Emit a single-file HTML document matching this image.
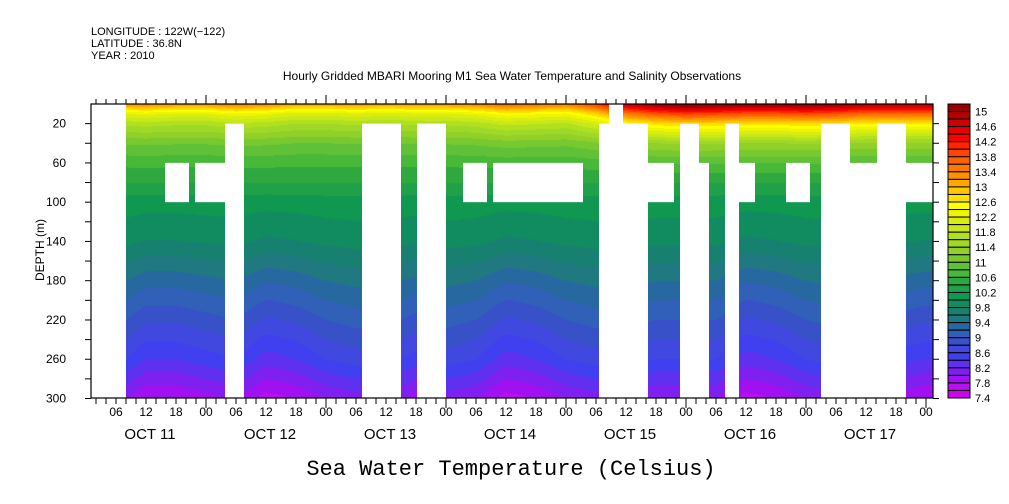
<!DOCTYPE html>
<html><head><meta charset="utf-8">
<style>
html,body{margin:0;padding:0;background:#fff;}
body{width:1009px;height:504px;position:relative;overflow:hidden;font-family:"Liberation Sans",sans-serif;}
svg text{font-family:"Liberation Sans",sans-serif;fill:#000;}
</style></head>
<body>
<svg id="chart" width="1009" height="504" xmlns="http://www.w3.org/2000/svg" style="position:absolute;left:0;top:0">
  <g font-size="11">
    <text x="91" y="35">LONGITUDE : 122W(−122)</text>
    <text x="91" y="47">LATITUDE : 36.8N</text>
    <text x="91" y="59">YEAR : 2010</text>
  </g>
  <text x="512" y="80" font-size="12" text-anchor="middle">Hourly Gridded MBARI Mooring M1 Sea Water Temperature and Salinity Observations</text>
  <foreignObject x="91" y="104" width="842" height="294"><canvas xmlns="http://www.w3.org/1999/xhtml" id="heat" width="842" height="294" style="display:block"></canvas></foreignObject>
  <g id="gaps"></g>
  <g id="axes"></g>
  <g id="cbar"></g>
  <text transform="translate(44,250) rotate(-90)" font-size="12" text-anchor="middle">DEPTH (m)</text>
  <text x="511" y="475" font-size="22" text-anchor="middle" style="font-family:'Liberation Mono',monospace">Sea Water Temperature (Celsius)</text>
</svg>
<script>
// ---- data ----
const depths = [0, 5, 10, 20, 40, 60, 80, 100, 140, 180, 220, 260, 300];
const baseProfile = [13.2, 12.6, 12.1, 11.6, 11.0, 10.65, 10.4, 10.1, 9.85, 9.4, 9.0, 8.6, 8.0];
const surfWeight = [1, 0.95, 0.85, 0.55, 0.2, 0.08, 0, 0, 0, 0, 0, 0, 0];
const deepWeight = [0, 0, 0, 0, 0, 0, 0, 0.1, 0.3, 0.6, 0.8, 1, 1];
const anomHours = [0,6,12,18,24,30,36,42,48,54,60,66,72,78,84,90,96,102,108,114,120,126,132,138,144,150,156,162,168];
const surfAnom = [0.1,0.1,0.2,0.1, 0.1,0.3,0.2,0.0, 0.0,0.1,0.0,0.1, 0.1,0.2,0.5,0.4, 0.3,0.8,1.6,2.0, 2.2,2.1,2.0,2.0, 2.1,2.0,1.8,1.8, 1.8];
const deepAnom = [0,0.1,-0.2,-0.2, -0.1,0.0,-0.3,-0.2, 0.0,0.1,0.1,-0.1, 0.1,0.0,-0.3,-0.2, 0.0,0.1,0.1,0.0, 0.0,0.0,-0.3,-0.2, 0.0,0.1,0.0,-0.1, -0.2];
// gaps: [startHour, endHour, depthTop, depthBottom]
const gapStart = [1, 15.8, 21.8, 27.8, 55.2, 66.2, 75.4, 81.4, 102.6, 104.6, 112.4, 118.8, 122.6, 127.8, 130.6, 140, 147, 152.8, 158.2, 164];
const gapEnd   = [8, 20.6, 27.8, 31.6, 63, 72, 80.2, 99.4, 112.4, 107.4, 117.6, 122.6, 124.6, 130.6, 133.8, 144.8, 152.8, 158.2, 164, 169.4];
const gapTop   = [0, 60, 60, 20, 20, 20, 60, 60, 20, 0, 60, 20, 60, 20, 60, 60, 20, 60, 20, 60];
const gapBot   = [300, 100, 100, 300, 300, 300, 100, 100, 300, 20, 100, 300, 300, 300, 100, 100, 300, 300, 300, 100];
const cbarLabels = ["15","14.6","14.2","13.8","13.4","13","12.6","12.2","11.8","11.4","11","10.6","10.2","9.8","9.4","9","8.6","8.2","7.8","7.4"];
const depthTicks = [20,60,100,140,180,220,260,300];
const hourLabels = ["06","12","18","00"];
const dayLabels = ["OCT 11","OCT 12","OCT 13","OCT 14","OCT 15","OCT 16","OCT 17"];
const palette = ["#990000","#b00000","#cc0000","#e60000","#ff0000","#ff2400","#ff4400","#ff6000","#ff7800","#ff9000","#ffa800","#ffc800","#ffe000","#ffff00","#eef500","#d8ee10","#c8e818","#b0e020","#a0d828","#90d028","#78c830","#60c038","#48b838","#30a840","#20a048","#109850","#108c60","#188070","#207880","#2868a0","#3060b8","#3850c8","#4048e0","#4040f0","#6030f0","#8020f0","#a010f0","#b810f0","#d000f0"];

// ---- scales ----
const X0 = 86, PXH = 5, Y0 = 104, PXM = 0.9817, L = 91, R = 933, T = 104, B = 398;
const xs = h => X0 + PXH * h;
const ys = d => Y0 + PXM * d;
const NS = "http://www.w3.org/2000/svg";
function mk(tag, attrs, parent){const e=document.createElementNS(NS,tag);for(const k in attrs)e.setAttribute(k,attrs[k]);parent.appendChild(e);return e;}
function lerpArr(xsA, ysA, v){
  if(v<=xsA[0])return ysA[0];
  for(let i=1;i<xsA.length;i++){if(v<=xsA[i]){const f=(v-xsA[i-1])/(xsA[i]-xsA[i-1]);return ysA[i-1]+f*(ysA[i]-ysA[i-1]);}}
  return ysA[ysA.length-1];
}
function temp(h,d){
  return lerpArr(depths,baseProfile,d) + lerpArr(anomHours,surfAnom,h)*lerpArr(depths,surfWeight,d) + lerpArr(anomHours,deepAnom,h)*lerpArr(depths,deepWeight,d);
}
// ---- heatmap ----
const ctx = document.getElementById('heat').getContext('2d');
for(let px=0;px<R-L;px++){
  const h=(L+px+0.5-X0)/PXH;
  for(let py=0;py<B-T;py++){
    const d=(T+py+0.5-Y0)/PXM;
    let i=Math.floor((15.2-temp(h,d))/0.2); i=Math.max(0,Math.min(38,i));
    ctx.fillStyle=palette[i]; ctx.fillRect(px,py,1,1);
  }
}
// ---- gaps ----
const gg=document.getElementById('gaps');
for(let i=0;i<gapStart.length;i++){
  const r=mk('rect',{x:Math.max(L,xs(gapStart[i])),y:ys(gapTop[i]),width:Math.min(R,xs(gapEnd[i]))-Math.max(L,xs(gapStart[i])),height:ys(gapBot[i])-ys(gapTop[i]),fill:'#fff'},gg);
  
  
}
// ---- axes ----
const ax=document.getElementById('axes');
mk('rect',{x:L,y:T,width:R-L,height:B-T,fill:'none',stroke:'#000','stroke-width':1.2},ax);
for(let d=20;d<=300;d+=20){
  const y=ys(d);
  mk('line',{x1:L-6,y1:y,x2:L,y2:y,stroke:'#000'},ax);
  mk('line',{x1:R,y1:y,x2:R+6,y2:y,stroke:'#000'},ax);
}
depthTicks.forEach(d=>{
  const t=mk('text',{x:L-25,y:ys(d)+4,'font-size':12,'text-anchor':'end'},ax);
  t.textContent=d;
  
  
});
for(let h=2;h<=168;h+=2){
  const x=xs(h); if(x<L||x>R)continue;
  const major=h%24===0;
  mk('line',{x1:x,y1:B,x2:x,y2:B+(major?10:6),stroke:'#000'},ax);
  mk('line',{x1:x,y1:T,x2:x,y2:T-(major?9:5),stroke:'#000'},ax);
}
for(let h=6;h<=168;h+=6){
  const t=mk('text',{x:xs(h),y:416,'font-size':12,'text-anchor':'middle'},ax);
  t.textContent=hourLabels[(h/6-1)%4];
  
  
}
dayLabels.forEach((lab,i)=>{
  const t=mk('text',{x:xs(24*i+12)+4,y:439,'font-size':15,'text-anchor':'middle'},ax);
  t.textContent=lab;
  
  
});
// ---- colorbar ----
const cb=document.getElementById('cbar');
const CX=948, CW=22, CT=104, CH=294, bh=CH/39;
palette.forEach((c,i)=>{
  const r=mk('rect',{x:CX,y:CT+i*bh,width:CW,height:bh,fill:c,stroke:'#000','stroke-width':1},cb);
  
  
});
cbarLabels.forEach((lab,i)=>{
  const t=mk('text',{x:CX+CW+5,y:CT+(1+2*i)*bh+4,'font-size':11},cb);
  t.textContent=lab;
  
  
});
</script>
</body></html>
